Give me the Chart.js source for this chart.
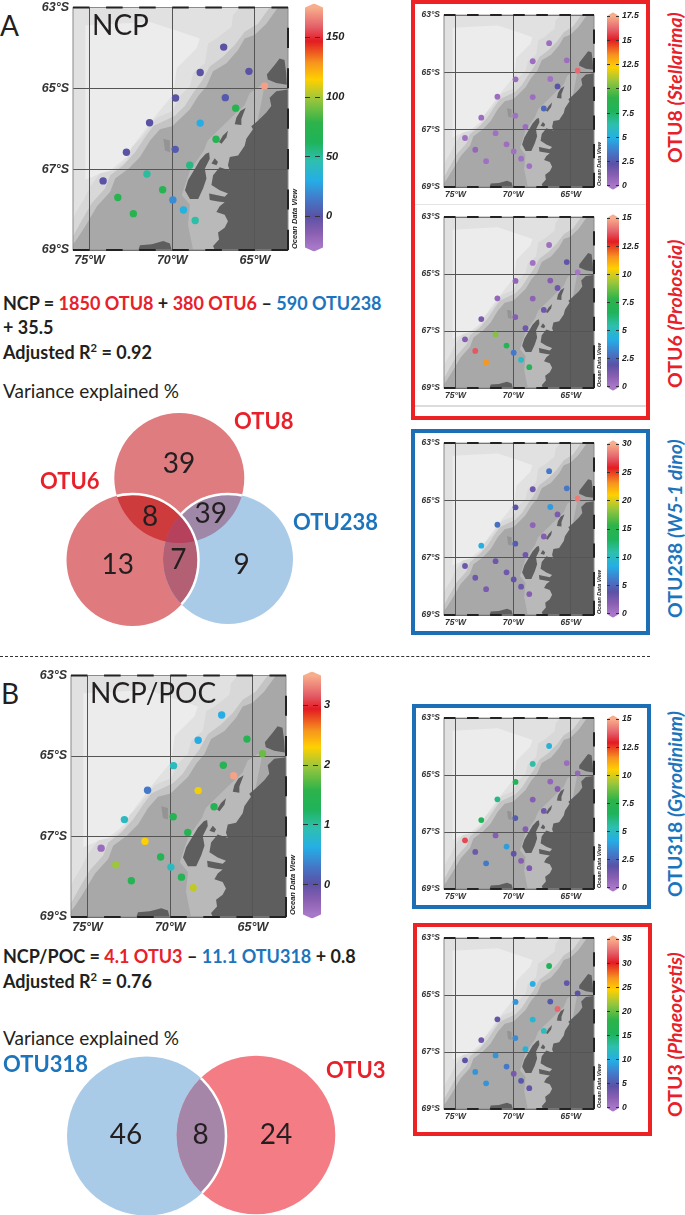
<!DOCTYPE html>
<html>
<head>
<meta charset="utf-8">
<title>NCP and OTU maps</title>
<script src="https://cdn.jsdelivr.net/npm/chart.js@4"></script>
<style>
  html, body { margin: 0; background: #fff; }
  #page { position: relative; width: 685px; height: 1215px; overflow: hidden; font-family: Lato, sans-serif; color: #231f20; }
  #page canvas { position: absolute; }
  .t { position: absolute; white-space: nowrap; line-height: 1.2; z-index: 2; }
  .eq { font-weight: 700; font-size: 18px; }
  .big { font-size: 28px; }
  .var { font-size: 19px; }
  .otu { font-weight: 700; font-size: 22px; }
  .side { position: absolute; white-space: nowrap; line-height: 1; font-size: 19.5px; font-weight: 700; transform: rotate(-90deg); transform-origin: 0 0; }
  .side i { font-weight: 700; }
  .odv { position: absolute; white-space: nowrap; line-height: 1; font-family: "Liberation Sans", sans-serif; font-weight: 700; font-style: italic; color: #222; transform: rotate(-90deg); transform-origin: 0 0; }
  .box { position: absolute; box-sizing: border-box; border-style: solid; border-width: 4px; }
  .red { color: #e8202a; }
  .blue { color: #1c75bc; }
  sup { font-size: 62%; line-height: 0; }
</style>
</head>
<body>
<div id="page">
  <div class="box" style="left:411px;top:0;width:239px;height:420px;border-color:#ed2224"></div>
  <div class="box" style="left:411px;top:429px;width:239px;height:206px;border-color:#1c6fb5"></div>
  <div class="box" style="left:412px;top:704px;width:239px;height:205px;border-color:#1c6fb5"></div>
  <div class="box" style="left:413px;top:923px;width:239px;height:213px;border-color:#ed2224"></div>
  <div style="position:absolute;left:415px;top:204px;width:231px;height:1px;background:#e4e4e4"></div>
  <div style="position:absolute;left:415px;top:405px;width:231px;height:2px;background:#dcdcdc"></div>
  <div style="position:absolute;left:0;top:656px;width:650px;border-top:1px dashed #333"></div>

  <div class="t big" style="left:0;top:9px">A</div>
  <div class="t big" style="left:92px;top:8px">NCP</div>
  <div class="t big" style="left:1px;top:677px">B</div>
  <div class="t big" style="left:90px;top:676px">NCP/POC</div>

  <div class="t eq" style="left:3px;top:293px">NCP = <span class="red">1850 OTU8</span> + <span class="red">380 OTU6</span> – <span class="blue">590 OTU238</span></div>
  <div class="t eq" style="left:3px;top:317px">+ 35.5</div>
  <div class="t eq" style="left:3px;top:342px">Adjusted R<sup>2</sup> = 0.92</div>
  <div class="t var" style="left:3px;top:380px">Variance explained %</div>

  <div class="t eq" style="left:3px;top:946px">NCP/POC = <span class="red">4.1 OTU3</span> – <span class="blue">11.1 OTU318</span> + 0.8</div>
  <div class="t eq" style="left:3px;top:971px">Adjusted R<sup>2</sup> = 0.76</div>
  <div class="t var" style="left:3px;top:1027px">Variance explained %</div>

  <div class="side red" style="left:665px;top:163px">OTU8 <i>(Stellarima)</i></div>
  <div class="side red" style="left:665px;top:388px">OTU6 <i>(Proboscia)</i></div>
  <div class="side blue" style="left:665px;top:618px">OTU238 <i>(W5-1 dino)</i></div>
  <div class="side blue" style="left:665px;top:897px">OTU318 <i>(Gyrodinium)</i></div>
  <div class="side red" style="left:665px;top:1117px">OTU3 <i>(Phaeocystis)</i></div>
</div>

<script>
// ── STATIONS ──────────────────────────────────────────────────────
const stationLon = [-66.89, -68.31, -65.36, -64.42, -69.80, -66.79, -66.16, -71.37, -68.31, -67.35, -69.82,
                    -72.77, -68.94, -71.53, -74.18, -70.58, -73.29, -69.96, -69.32, -72.35, -68.61];
const stationLat = [-63.98, -64.61, -64.58, -64.94, -65.24, -65.23, -65.49, -65.85, -65.86, -66.26, -66.51,
                    -66.58, -66.90, -67.12, -67.29, -67.51, -67.70, -67.76, -68.01, -68.10, -68.27];

// Values per station
const ncp    = [0, 0, 0, 172, 0, 3, 72, 0, 30, 70, 3, 0, 55, 50, 0, 70, 72, 20, 32, 72, 48];
const ncpPoc = [0.62, 0.6, 1.4, 1.8, 0.86, 1.4, 3.45, 0.3, 2.26, 1.4, 1.4, 0.85, 1.4, 2.3, -0.38, 1.4, 1.98, 0.85, 1.4, 1.4, 2.1];
const otu8   = [0.4, 0.4, 0.4, 16.3, 0.5, 0.2, 2.3, 0.4, 0.4, 3, 0.3, 0.4, 0.5, 0.3, 0.3, 0.4, 0.7, 0.3, 0.3, 0.3, 0.3];
const otu6   = [0.3, 0.2, 1.8, 0.1, 0.7, 1, 1.5, 0.6, 0.8, 1.5, 1, 1.2, 1.5, 9, 1, 7, 13.7, 3, 5, 11.5, 7];
const otu238 = [6, 3, 6, 28.5, 4, 7.5, 2.5, 5.5, 1.5, 2, 4.5, 8.5, 3, 3, 3, 3, 3, 3.5, 3, 2.5, 2];
const otu318 = [4.5, 5.5, 0.4, 0.6, 7, 0.7, 1, 6, 1, 1.5, 2.2, 6.8, 1, 1, 13.5, 3.8, 1.5, 1.8, 1, 3, 1.2];
const otu3   = [15.5, 10, 4, 4.5, 8.5, 5, 32.5, 4, 11, 12, 8, 3.5, 10.5, 8.5, 4.5, 7, 8.5, 3, 5, 8.5, 4];

// Axis and colour bar ticks
const lonTicks = [-75, -70, -65];
const latTicks = [-69, -67, -65, -63];
const ncpTicks    = [0, 50, 100, 150];
const ncpPocTicks = [0, 1, 2, 3];
const otu8Ticks   = [0, 2.5, 5, 7.5, 10, 12.5, 15, 17.5];
const otu6Ticks   = [0, 2.5, 5, 7.5, 10, 12.5, 15];
const otu238Ticks = [0, 5, 10, 15, 20, 25, 30];
const otu318Ticks = [0, 2.5, 5, 7.5, 10, 12.5, 15];
const otu3Ticks   = [0, 5, 10, 15, 20, 25, 30, 35];

// Variance explained
const vennLabelsA = ['39', '8', '39', '13', '7', '9'];
const vennLabelsB = ['46', '8', '24'];

// ── BASEMAP (lon, lat) ────────────────────────────────────────────
const mapCorners = [[-76, -69], [-63, -69], [-63, -63], [-76, -63]];
const openOcean = [[-75.26, -63.44], [-71.34, -63.36], [-69.54, -63.6], [-68.33, -63.77], [-68.53, -64.01], [-69.73, -64.5],
  [-69.94, -65.15], [-70.94, -65.64], [-72.14, -66.29], [-72.75, -66.7], [-73.75, -67.03], [-74.36, -67.11], [-75.26, -67.27]];
const slopeUpper = [[-65.92, -63], [-66.33, -63.2], [-66.42, -63.48], [-67.33, -63.77], [-67.83, -63.89], [-68.03, -64.38],
  [-68.73, -64.62], [-68.93, -64.95], [-69.54, -65.19], [-69.98, -65.56], [-70.94, -65.72], [-71.84, -66.21], [-72.45, -66.46],
  [-72.75, -66.78], [-73.55, -67.03], [-74.36, -67.1], [-74.96, -67.43], [-75.36, -67.76], [-75.86, -68.09], [-76, -68.25],
  [-76, -69], [-63, -69], [-63, -63]];
const slopeLower = [[-64.11, -63], [-64.82, -63.4], [-65.62, -63.6], [-66.22, -63.93], [-66.93, -64.22], [-67.73, -64.46],
  [-68.23, -64.83], [-68.73, -65.11], [-69.24, -65.44], [-69.84, -65.68], [-71.14, -65.93], [-71.64, -66.21], [-72.25, -66.58],
  [-72.95, -66.9], [-73.75, -67.15], [-74.05, -67.47], [-74.86, -67.84], [-75.56, -68.33], [-76, -68.66],
  [-76, -69], [-63, -69], [-63, -63]];
const shelf = [[-63.61, -63], [-64.31, -63.4], [-65.02, -63.68], [-65.62, -63.77], [-66.02, -64.05], [-66.72, -64.38], [-67.53, -64.58],
  [-67.93, -64.95], [-68.43, -65.19], [-68.93, -65.52], [-69.54, -65.76], [-69.98, -65.93], [-70.74, -66.01], [-71.34, -66.29],
  [-71.95, -66.7], [-72.65, -66.99], [-73.45, -67.23], [-73.75, -67.56], [-74.55, -67.92], [-75.26, -68.41], [-75.72, -68.7],
  [-76, -68.86], [-76, -69], [-63, -69], [-63, -63]];
const innerShelf = [[-64.6, -64.92], [-65.32, -65.12], [-65.62, -65.41], [-66.52, -65.76], [-67.25, -66.05], [-67.85, -66.29],
  [-68.09, -66.54], [-68.93, -67.03], [-69.42, -67.64], [-68.93, -67.88], [-69.05, -68.37], [-68.75, -68.98], [-66.4, -69], [-64.48, -65.07]];
const basin = [[-70.54, -66.25], [-70.14, -66.29], [-70.14, -66.58], [-70.44, -66.54]];
const mainland = [[-63, -65.03], [-63.71, -65.07], [-64.11, -65.23], [-64.01, -65.44], [-64.31, -65.6], [-64.82, -65.8], [-65.22, -65.94],
  [-65.12, -66.01], [-65.52, -66.25], [-65.62, -66.42], [-66.02, -66.66], [-66.52, -66.7], [-66.63, -66.9], [-66.52, -67.03],
  [-67.13, -66.95], [-67.53, -67.15], [-67.63, -67.39], [-67.13, -67.52], [-66.63, -67.6], [-66.83, -67.68], [-67.77, -67.6],
  [-67.73, -67.76], [-67.23, -67.8], [-66.83, -67.82], [-67.13, -67.92], [-67.33, -68.06], [-66.83, -68.13], [-66.63, -68.29],
  [-66.83, -68.45], [-67.23, -68.57], [-67.17, -68.74], [-67.53, -68.9], [-67.43, -69], [-63, -69]];
const adelaide = [[-67.77, -66.59], [-67.97, -66.62], [-68.33, -66.78], [-68.63, -66.99], [-69.04, -67.27], [-69.23, -67.52], [-68.93, -67.74],
  [-68.43, -67.74], [-68.13, -67.47], [-67.93, -67.23], [-68.03, -66.99], [-67.73, -66.74]];
const islet = [[-67.43, -66.73], [-67.23, -66.82], [-67.33, -66.9], [-67.63, -66.86]];
const renaud = [[-66.63, -66.05], [-66.72, -66.21], [-67.02, -66.37], [-67.17, -66.33], [-66.93, -66.17]];
const biscoe = [[-65.56, -65.48], [-65.82, -65.76], [-65.82, -65.91], [-66.22, -65.89], [-66.12, -65.72], [-65.88, -65.56]];
const anvers = [[-63.51, -64.26], [-63.21, -64.3], [-63.11, -64.62], [-63.07, -64.91], [-63.71, -64.87], [-64.22, -64.78], [-64.28, -64.66], [-63.81, -64.42]];
const alexander = [[-72.05, -69], [-71.95, -68.88], [-71.24, -68.86], [-70.54, -68.78], [-70.14, -68.84], [-70.04, -69]];

// ── COLOUR SCALE ──────────────────────────────────────────────────
const barStops = [[0, '#a878c8'], [0.06, '#8a5fb2'], [0.13, '#5a52a5'], [0.2, '#4478c8'], [0.28, '#25aee6'], [0.36, '#2ebfb0'],
  [0.44, '#1fb35a'], [0.52, '#2db34a'], [0.62, '#9cc63c'], [0.7, '#ffd000'], [0.77, '#f7941e'], [0.86, '#e31b23'], [0.92, '#e4606a'], [1, '#f8ae8c']];

const hexRgb = h => [1, 3, 5].map(i => parseInt(h.slice(i, i + 2), 16));

/** Colour of a value on a bar running from lo to hi. */
function colorFor(v, lo, hi) {
  const f = Math.min(1, Math.max(0, (v - lo) / (hi - lo)));
  for (let i = 1; i < barStops.length; i++) {
    if (f <= barStops[i][0]) {
      const [a, ca] = barStops[i - 1], [b, cb] = barStops[i];
      const k = (f - a) / (b - a), c1 = hexRgb(ca), c2 = hexRgb(cb);
      return `rgb(${c1.map((c, j) => Math.round(c + (c2[j] - c) * k)).join(',')})`;
    }
  }
  return barStops[barStops.length - 1][1];
}

const page = document.getElementById('page');
const arial = (size) => ({ family: "'Liberation Sans', Arial, sans-serif", size, weight: 'bold', style: 'italic' });

function addCanvas(left, top, w, h) {
  const c = document.createElement('canvas');
  c.width = w; c.height = h;
  c.style.left = left + 'px'; c.style.top = top + 'px';
  c.style.width = w + 'px'; c.style.height = h + 'px';
  page.appendChild(c);
  return c;
}

const shape = (pts, color) => ({
  data: pts.map(([x, y]) => ({ x, y })),
  showLine: true, fill: 'shape', backgroundColor: color,
  borderWidth: 0, pointRadius: 0, pointHitRadius: 0, tension: 0,
});

// Black and white degree bars round the map frame
const mapFrame = {
  id: 'mapFrame',
  afterDraw(chart) {
    const { ctx, chartArea: a, scales: { x, y } } = chart;
    ctx.save();
    ctx.strokeStyle = '#8a8a8a'; ctx.lineWidth = 1;
    ctx.strokeRect(a.left, a.top, a.right - a.left, a.bottom - a.top);
    ctx.strokeStyle = '#222'; ctx.lineWidth = 2;
    ctx.beginPath();
    for (let lon = -76; lon < -63; lon += 2) {
      for (const py of [a.top, a.bottom]) {
        ctx.moveTo(x.getPixelForValue(lon), py);
        ctx.lineTo(x.getPixelForValue(lon + 1), py);
      }
    }
    for (let lat = -69; lat < -63; lat += 1) {
      ctx.moveTo(a.right, y.getPixelForValue(lat));
      ctx.lineTo(a.right, y.getPixelForValue(lat + 0.5));
    }
    ctx.stroke();
    ctx.restore();
  },
};

function drawMap(area, values, lo, hi, dotR, fontSize) {
  const padL = 50, padT = 9, padB = 24, padR = 3;
  const w = area.r - area.l, h = area.b - area.t;
  const cv = addCanvas(area.l - padL, area.t - padT, Math.round(w + padL + padR), Math.round(h + padT + padB));
  new Chart(cv, {
    type: 'scatter',
    data: {
      datasets: [
        {
          data: stationLon.map((x, i) => ({ x, y: stationLat[i] })),
          backgroundColor: values.map(v => colorFor(v, lo, hi)),
          borderWidth: 0, pointRadius: dotR, pointBorderWidth: 0,
        },
        shape(alexander, '#5e5e5e'), shape(anvers, '#5e5e5e'), shape(biscoe, '#5e5e5e'), shape(renaud, '#5e5e5e'),
        shape(islet, '#5e5e5e'), shape(adelaide, '#5e5e5e'), shape(mainland, '#5e5e5e'),
        shape(basin, '#949494'), shape(innerShelf, '#b9b9b9'), shape(shelf, '#a8a8a8'),
        shape(slopeLower, '#c4c4c4'), shape(slopeUpper, '#d8d8d8'), shape(openOcean, '#ececec'), shape(mapCorners, '#e1e1e1'),
      ],
    },
    options: {
      responsive: false, animation: false, events: [],
      layout: { padding: { top: padT, right: padR, left: 0, bottom: 0 } },
      plugins: { legend: { display: false }, tooltip: { enabled: false }, filler: { drawTime: 'beforeDraw' } },
      scales: {
        x: {
          type: 'linear', min: -76, max: -63,
          afterBuildTicks: s => { s.ticks = lonTicks.map(value => ({ value })); },
          afterFit: s => { s.height = padB; },
          grid: { color: '#555', lineWidth: 1, drawTicks: false },
          border: { display: false },
          ticks: { autoSkip: false, maxRotation: 0, padding: 3, color: '#333', font: arial(fontSize), callback: v => `${-v}°W` },
        },
        y: {
          type: 'linear', min: -69, max: -63,
          afterBuildTicks: s => { s.ticks = latTicks.map(value => ({ value })); },
          afterFit: s => { s.width = padL; },
          grid: { color: '#555', lineWidth: 1, drawTicks: false },
          border: { display: false },
          ticks: { autoSkip: false, padding: 4, color: '#333', font: arial(fontSize), callback: v => `${-v}°S` },
        },
      },
    },
    plugins: [mapFrame],
  });
}

function drawBar(bar, lo, hi, ticks, fontSize, dash) {
  const tip = 4, pad = 7, labelW = 34;
  const boxH = bar.b - bar.t;
  const cap = (hi - lo) * tip / boxH;
  const w = bar.r - bar.l;
  const cv = addCanvas(bar.l, bar.t - tip - pad, w + labelW, Math.round(boxH + 2 * tip + 2 * pad));
  const outline = [[0, lo], [0.5, lo - cap], [1, lo], [1, hi], [0.5, hi + cap], [0, hi]];
  new Chart(cv, {
    type: 'scatter',
    data: {
      datasets: [{
        data: outline.map(([x, y]) => ({ x, y })),
        showLine: true, fill: 'shape', borderWidth: 0, pointRadius: 0,
        backgroundColor: ctx => {
          const { chart } = ctx;
          const a = chart.chartArea;
          if (!a) return '#888';
          // the bar box sits one tip inside the chart area at both ends
          const g = chart.ctx.createLinearGradient(0, a.bottom - tip, 0, a.top + tip);
          barStops.forEach(([p, c]) => g.addColorStop(p, c));
          return g;
        },
      }],
    },
    options: {
      responsive: false, animation: false, events: [],
      layout: { padding: { top: pad, bottom: pad } },
      plugins: { legend: { display: false }, tooltip: { enabled: false }, filler: { drawTime: 'beforeDraw' } },
      scales: {
        x: { type: 'linear', min: 0, max: 1, display: false },
        y: {
          type: 'linear', position: 'right', min: lo - cap, max: hi + cap,
          afterBuildTicks: s => { s.ticks = ticks.map(value => ({ value })); },
          afterFit: s => { s.width = labelW; },
          grid: { color: '#333', lineWidth: 1, drawTicks: false },
          border: { display: false, dash },
          ticks: { autoSkip: false, padding: 3, color: '#222', font: arial(fontSize) },
        },
      },
    },
  });
}

function odvLabel(x, bottom, size) {
  const d = document.createElement('div');
  d.className = 'odv';
  d.textContent = 'Ocean Data View';
  d.style.left = x + 'px'; d.style.top = bottom + 'px'; d.style.fontSize = size + 'px';
  page.appendChild(d);
}

// ── VENN DIAGRAMS ─────────────────────────────────────────────────
const circlePath = (ctx, c) => { ctx.moveTo(c.x + c.r, c.y); ctx.arc(c.x, c.y, c.r, 0, Math.PI * 2); };

const vennExtras = {
  id: 'vennExtras',
  afterDatasetsDraw(chart, _a, opts) {
    const { ctx, chartArea: area, scales: { x, y } } = chart;
    const circles = chart.data.datasets[0].data.map(p => ({ x: x.getPixelForValue(p.x), y: y.getPixelForValue(p.y), r: p.r }));
    for (const o of opts.overlaps) {
      ctx.save();
      for (const m of o.members) { ctx.beginPath(); circlePath(ctx, circles[m]); ctx.clip(); }
      ctx.fillStyle = o.color;
      ctx.fillRect(area.left, area.top, area.right - area.left, area.bottom - area.top);
      ctx.restore();
    }
    for (const a of opts.arcs) {
      ctx.save();
      ctx.beginPath();
      a.inside.forEach(m => circlePath(ctx, circles[m]));
      ctx.clip();
      (a.outside || []).forEach(m => {
        ctx.beginPath();
        ctx.rect(area.left, area.top, area.right - area.left, area.bottom - area.top);
        circlePath(ctx, circles[m]);
        ctx.clip('evenodd');
      });
      ctx.strokeStyle = '#fff'; ctx.lineWidth = 2.5;
      ctx.beginPath(); circlePath(ctx, circles[a.circle]); ctx.stroke();
      ctx.restore();
    }
    ctx.save();
    ctx.fillStyle = '#231f20'; ctx.font = '28px Lato, sans-serif';
    ctx.textAlign = 'center'; ctx.textBaseline = 'middle';
    opts.labels.forEach((t, i) => ctx.fillText(t, x.getPixelForValue(opts.labelX[i]), y.getPixelForValue(opts.labelY[i])));
    ctx.restore();
  },
};

function drawVenn(rect, circles, colors, extras) {
  const cv = addCanvas(rect.l, rect.t, rect.r - rect.l, rect.b - rect.t);
  new Chart(cv, {
    type: 'bubble',
    data: { datasets: [{ data: circles, backgroundColor: colors, borderWidth: 0, clip: false }] },
    options: {
      responsive: false, animation: false, events: [],
      layout: { autoPadding: false },
      plugins: { legend: { display: false }, tooltip: { enabled: false }, vennExtras: extras },
      scales: {
        x: { type: 'linear', min: rect.l, max: rect.r, display: false },
        y: { type: 'linear', min: rect.t, max: rect.b, reverse: true, display: false },
      },
    },
    plugins: [vennExtras],
  });
}

// ── PANELS ────────────────────────────────────────────────────────
const smallL = 444.3, smallR = 595.3, barL = 607, barR = 619;

drawMap({ l: 72.7, r: 288.7, t: 5.3, b: 250.7 }, ncp, -26, 175, 3.7, 12.5);
drawBar({ l: 305, r: 323, t: 5.3, b: 250.7 }, -26, 175, ncpTicks, 11, [5, 5]);
odvLabel(291, 249, 7.5);

drawMap({ l: 71, r: 286.7, t: 672.7, b: 916.7 }, ncpPoc, -0.5, 3.5, 3.7, 12.5);
drawBar({ l: 303, r: 321, t: 672.7, b: 916.7 }, -0.5, 3.5, ncpPocTicks, 11, [5, 5]);
odvLabel(289, 915, 7.5);

const smallPanels = [
  [15, 187.3, otu8, 17.5, otu8Ticks],
  [217, 388.3, otu6, 15, otu6Ticks],
  [443, 615, otu238, 30, otu238Ticks],
  [717.7, 889, otu318, 15, otu318Ticks],
  [937.7, 1109, otu3, 35, otu3Ticks],
];
for (const [t, b, vals, hi, ticks] of smallPanels) {
  drawMap({ l: smallL, r: smallR, t, b }, vals, 0, hi, 2.9, 8.5);
  drawBar({ l: barL, r: barR, t, b }, 0, hi, ticks, 8.6, [3, 6]);
  odvLabel(597, b - 1, 5.5);
}

drawVenn({ l: 50, r: 310, t: 405, b: 640 },
  [{ x: 179.3, y: 478, r: 65 }, { x: 132.5, y: 560, r: 66 }, { x: 228, y: 559, r: 65 }],
  ['#de7c7f', '#df7b7e', '#aacbe7'],
  {
    overlaps: [
      { members: [0, 2], color: '#9f87a8' },
      { members: [0, 1], color: '#cd3b3d' },
      { members: [1, 2], color: '#b36075' },
      { members: [0, 1, 2], color: '#b5415c' },
    ],
    arcs: [
      { circle: 2, inside: [0], outside: [1] },
      { circle: 1, inside: [0, 2] },
    ],
    labels: vennLabelsA,
    labelX: [179, 150, 210.7, 117.7, 178.3, 241.7],
    labelY: [464, 517, 514, 565, 560, 565],
  });

drawVenn({ l: 60, r: 340, t: 1050, b: 1215 },
  [{ x: 146.5, y: 1136, r: 79.5 }, { x: 256, y: 1135, r: 79.3 }],
  ['#aacbe7', '#f47d85'],
  {
    overlaps: [{ members: [0, 1], color: '#a586a8' }],
    arcs: [{ circle: 0, inside: [1] }],
    labels: vennLabelsB,
    labelX: [126, 200.7, 276],
    labelY: [1135, 1135, 1135],
  });

// Labels go on top of the diagrams
[['OTU8', 'red', 234, 408], ['OTU6', 'red', 40, 468], ['OTU238', 'blue', 293, 509],
 ['OTU318', 'blue', 3, 1051], ['OTU3', 'red', 326, 1057]].forEach(([text, cls, left, top]) => {
  const d = document.createElement('div');
  d.className = `t otu ${cls}`;
  d.textContent = text;
  d.style.left = left + 'px'; d.style.top = top + 'px';
  page.appendChild(d);
});
</script>
</body>
</html>
